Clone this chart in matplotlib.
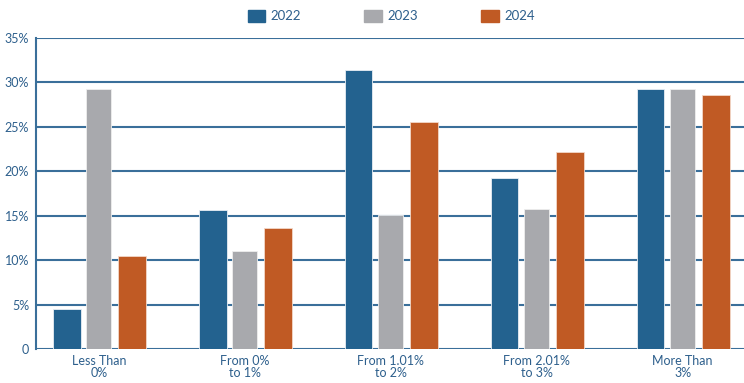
import numpy as np
import matplotlib.pyplot as plt
from matplotlib.patches import Patch

categories = ['Less Than\n0%', 'From 0%\nto 1%', 'From 1.01%\nto 2%', 'From 2.01%\nto 3%', 'More Than\n3%']
years = ['2022', '2023', '2024']
v2022 = [4.5, 15.6, 31.4, 19.2, 29.3]
v2023 = [29.3, 11.0, 15.1, 15.8, 29.3]
v2024 = [10.5, 13.6, 25.5, 22.2, 28.6]
yticks = [0, 5, 10, 15, 20, 25, 30, 35]
ylabels = ['0', '5%', '10%', '15%', '20%', '25%', '30%', '35%']

blue = '#23628f'
grey = '#a8a9ad'
orange = '#c05a24'
line = '#3a6f9a'
txt = '#2d5f8c'

plt.rcParams['font.family'] = ['Lato', 'DejaVu Sans']

fig = plt.figure(figsize=(7.44, 3.83), dpi=100)
ax = fig.add_axes([36/744, 34/383, 1 - 36/744, 311/383])

x = np.arange(len(categories))
ax.bar(x - 0.22, v2022, 0.19, color=blue, edgecolor='#e8eef4', linewidth=0.6, zorder=3)
ax.bar(x, v2023, 0.17, color=grey, edgecolor='#eeeeee', linewidth=0.6, zorder=3)
ax.bar(x + 0.226, v2024, 0.19, color=orange, edgecolor='#f3d8c8', linewidth=0.6, zorder=3)

ax.set_xlim(-0.43, 4.42)
ax.set_ylim(0, 35)
ax.set_yticks(yticks)
ax.set_yticklabels(ylabels)
ax.set_xticks(x)
ax.set_xticklabels(categories, linespacing=1.0)
ax.tick_params(length=0, colors=txt, labelsize=9)
ax.tick_params(axis='y', pad=5)
ax.tick_params(axis='x', pad=4)

for t in yticks:
    ax.axhline(t, color=line, linewidth=1.5, zorder=1)
for s in ['top', 'right', 'bottom']:
    ax.spines[s].set_visible(False)
ax.spines['left'].set_color(line)
ax.spines['left'].set_linewidth(1.5)

handles = [Patch(color=c) for c in (blue, grey, orange)]
fig.legend(handles, years, loc='center', bbox_to_anchor=(0.526, 0.958), ncol=3,
           frameon=False, handlelength=1.3, handleheight=1.1, handletextpad=0.45,
           columnspacing=4.8, labelcolor=txt, fontsize=9.5)

fig.savefig('out.png', dpi=100)
